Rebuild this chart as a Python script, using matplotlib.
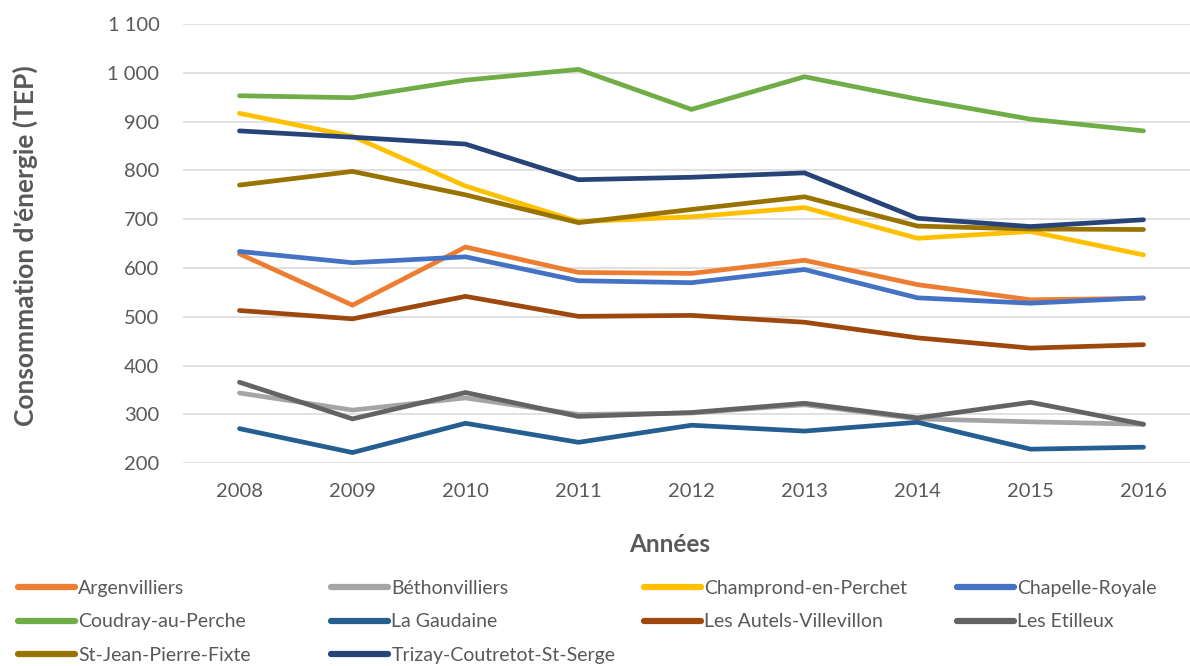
import matplotlib
matplotlib.use("Agg")
import matplotlib.pyplot as plt
from matplotlib.lines import Line2D

plt.rcParams['font.family'] = ['Lato', 'DejaVu Sans']

annees = ["2008", "2009", "2010", "2011", "2012", "2013", "2014", "2015", "2016"]

argenvilliers = [629, 524, 643, 591, 589, 616, 566, 535, 538]
bethonvilliers = [344, 309, 334, 300, 303, 320, 291, 285, 280]
champrond = [917, 870, 768, 695, 705, 724, 661, 675, 627]
chapelle_royale = [634, 611, 623, 574, 570, 597, 539, 528, 539]
coudray = [953, 949, 985, 1007, 925, 992, 946, 905, 881]
la_gaudaine = [271, 222, 282, 243, 278, 266, 284, 229, 233]
les_autels = [513, 496, 542, 501, 503, 489, 457, 436, 443]
les_etilleux = [366, 291, 345, 296, 304, 323, 293, 325, 280]
st_jean = [770, 798, 750, 693, 720, 746, 686, 680, 679]
trizay = [881, 868, 854, 781, 786, 795, 702, 685, 699]

communes = ["Argenvilliers", "Béthonvilliers", "Champrond-en-Perchet", "Chapelle-Royale",
            "Coudray-au-Perche", "La Gaudaine", "Les Autels-Villevillon", "Les Etilleux",
            "St-Jean-Pierre-Fixte", "Trizay-Coutretot-St-Serge"]
series = [argenvilliers, bethonvilliers, champrond, chapelle_royale, coudray,
          la_gaudaine, les_autels, les_etilleux, st_jean, trizay]
couleurs = ["#ED7D31", "#A5A5A5", "#FFC000", "#4472C4", "#70AD47",
            "#255E91", "#9E480E", "#636363", "#997300", "#264478"]

texte = "#595959"

fig = plt.figure(figsize=(11.9, 6.66), dpi=100)
ax = fig.add_axes([183 / 1190, 1 - 463.3 / 666, (1200 - 183) / 1190, (463.3 - 24) / 666])

x = range(len(annees))
for valeurs, couleur, nom in zip(series, couleurs, communes):
    ax.plot(x, valeurs, color=couleur, lw=3.4, solid_capstyle='round',
            solid_joinstyle='miter', label=nom)

ax.set_xlim(-0.5, len(annees) - 0.5)
ax.set_ylim(200, 1100)
ax.set_yticks(range(200, 1101, 100))
ax.set_yticklabels([f"{v:,}".replace(",", " ") for v in range(200, 1101, 100)])
ax.set_xticks(list(x))
ax.set_xticklabels(annees)
ax.tick_params(length=0, labelsize=14.5, colors=texte)
ax.tick_params(axis='y', pad=17)
ax.tick_params(axis='x', pad=14)
ax.grid(axis='y', color="#D9D9D9", lw=1.1)
ax.set_axisbelow(True)
for s in ax.spines.values():
    s.set_visible(False)

fig.text(670 / 1190, 1 - 545 / 666, "Années", fontsize=17.5, fontweight='bold',
         color=texte, ha='center', va='center')
fig.text(25 / 1190, 1 - 246 / 666, "Consommation d'énergie (TEP)", rotation=90,
         fontsize=19, fontweight='bold', color=texte, ha='center', va='center')

# legende en 4 colonnes a largeur fixe
colonnes = [[0, 4, 8], [1, 5, 9], [2, 6], [3, 7]]
x_col = [18, 331, 644, 957]
for col, xc in zip(colonnes, x_col):
    poignees = [Line2D([], [], color=couleurs[i], lw=4.5, solid_capstyle='round') for i in col]
    leg = fig.legend(poignees, [communes[i] for i in col], loc='upper left',
                     bbox_to_anchor=(xc / 1190, 1 - 580 / 666), frameon=False,
                     fontsize=14, handlelength=2.95, handletextpad=0.15,
                     labelspacing=0.84, borderpad=0, borderaxespad=0)
    for t in leg.get_texts():
        t.set_color(texte)

fig.savefig("out.png", dpi=100)
